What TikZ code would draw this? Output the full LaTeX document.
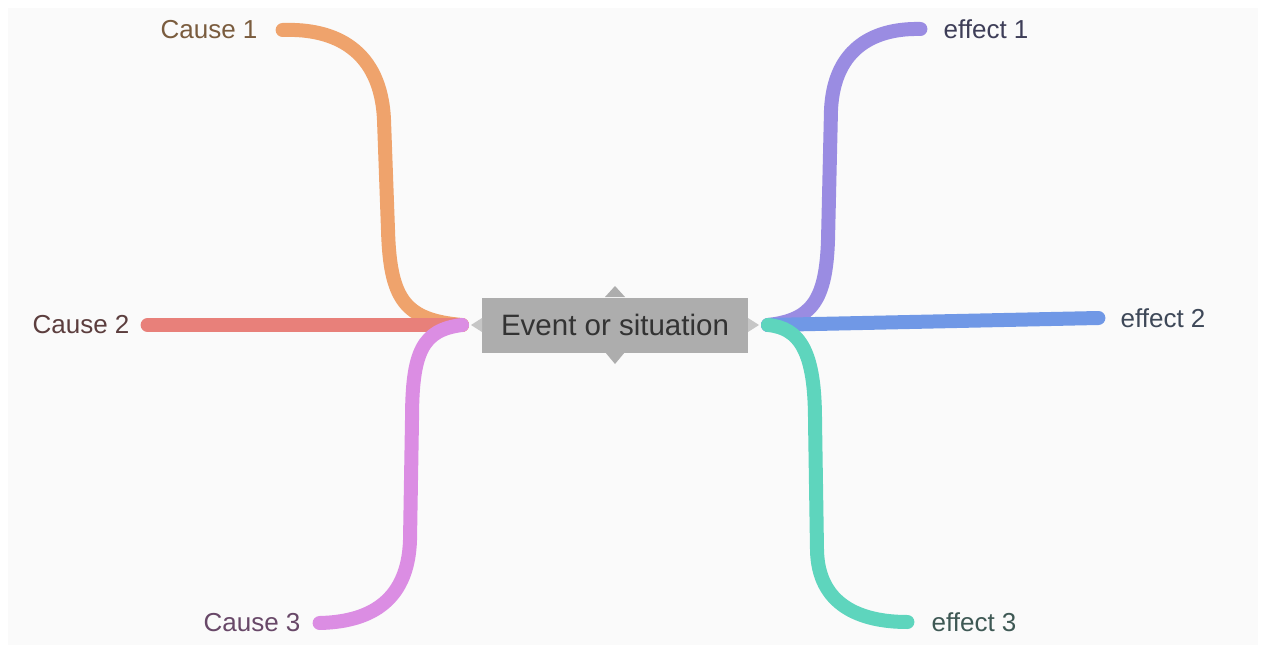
\documentclass[tikz,border=0pt]{standalone}
\usepackage{fontspec}
\setmainfont{Liberation Sans}
\begin{document}
\begin{tikzpicture}[x=1pt,y=-1pt,
  branch/.style={line width=14pt,line cap=round},
  lbl/.style={font=\fontsize{26}{30}\selectfont,inner sep=0pt},
  hub/.style={fill=hubgray,minimum width=266pt,minimum height=55pt,inner sep=0pt,
    font=\fontsize{29.5}{34}\selectfont,text=black!80},
  notch/.style={fill=hubgray,draw=none}]
\definecolor{bg}{HTML}{FAFAFA}
\definecolor{hubgray}{HTML}{ADADAD}
\definecolor{corange}{HTML}{EFA36C}
\definecolor{cred}{HTML}{E8807A}
\definecolor{cpink}{HTML}{DB8DE3}
\definecolor{epurple}{HTML}{9A8CE2}
\definecolor{eblue}{HTML}{7098E6}
\definecolor{egreen}{HTML}{5ED5BD}
% page and background panel
\useasboundingbox (0,0) rectangle (1265,652);
\fill[bg] (8,8) rectangle (1258,645);

% central event
\node[hub] (hub) at (615,325) {Event or situation};
\fill[notch] (605,297) -- (615,286) -- (625,297) -- cycle;
\fill[notch] (605,352) -- (615,364) -- (625,352) -- cycle;
\fill[hubgray!70] (482,318) -- (471,325) -- (482,332) -- cycle;
\fill[hubgray!70] (748,318) -- (759,325) -- (748,332) -- cycle;
\coordinate (L) at (462,325);
\coordinate (R) at (768,325);

% labels
\node[lbl,text={rgb,255:red,122;green,92;blue,62}] (c1) at (209,30) {Cause 1};
\node[lbl,text={rgb,255:red,92;green,62;blue,62}] (c2) at (81,325) {Cause 2};
\node[lbl,text={rgb,255:red,104;green,72;blue,104}] (c3) at (252,623) {Cause 3};
\node[lbl,text={rgb,255:red,62;green,62;blue,88}] (e1) at (986,29) {effect 1};
\node[lbl,text={rgb,255:red,62;green,72;blue,88}] (e2) at (1163,318) {effect 2};
\node[lbl,text={rgb,255:red,62;green,88;blue,84}] (e3) at (974,622) {effect 3};

% cause branches
\draw[branch,corange] (L) .. controls (405,320) and (390,300) .. (388,230)
  -- (384,120) .. controls (381,50) and (335,28) .. ([xshift=25pt]c1.east);
\draw[branch,cred] (L) -- ([xshift=18pt]c2.east);
\draw[branch,cpink] (L) .. controls (422,330) and (412,352) .. (412,420)
  -- (410,540) .. controls (408,605) and (365,622) .. ([xshift=19pt]c3.east);

% effect branches
\draw[branch,epurple] (R) .. controls (812,320) and (826,300) .. (828,240)
  -- (831,110) .. controls (834,45) and (878,28) .. ([xshift=-23pt]e1.west);
\draw[branch,eblue] (R) -- ([xshift=-22pt]e2.west);
\draw[branch,egreen] (R) .. controls (800,328) and (815,352) .. (815,420)
  -- (817,550) .. controls (818,605) and (860,622) .. ([xshift=-24pt]e3.west);
\end{tikzpicture}
\end{document}
